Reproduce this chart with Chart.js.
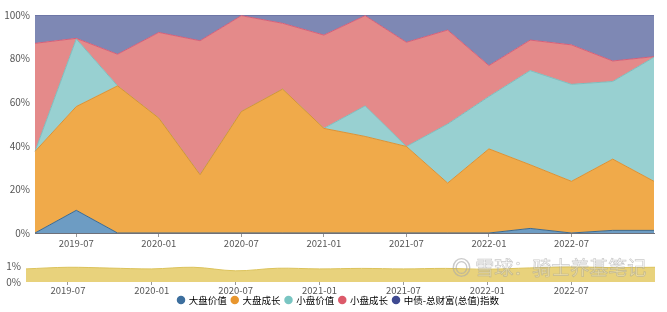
<!DOCTYPE html>
<html>
<head>
<meta charset="utf-8">
<script src="https://cdn.jsdelivr.net/npm/chart.js@4"></script>
<style>
  html, body { margin: 0; padding: 0; background: #fff; }
  #wrap { position: relative; width: 667px; height: 312px; overflow: hidden; }
  #main { position: absolute; left: 0; top: 0; }
  #sub { position: absolute; left: 0; top: 250px; }
  #mark {
    position: absolute; left: 452px; top: 253px;
    font: 19px "Noto Sans CJK SC", sans-serif;
    white-space: nowrap;
    color: rgba(255,255,255,0.3);
    -webkit-text-stroke: 0.7px rgba(150,150,150,0.5);
    pointer-events: none;
  }
</style>
</head>
<body>
<div id="wrap">
  <canvas id="main" width="667" height="250"></canvas>
  <canvas id="sub" width="667" height="62"></canvas>
  <div id="mark">◎ 雪球：骑士养基笔记</div>
</div>
<script>
// 季度
const quarters = [
  "2019-04","2019-07","2019-10","2020-01","2020-04","2020-07","2020-10","2021-01",
  "2021-04","2021-07","2021-10","2022-01","2022-04","2022-07","2022-10","2023-01"
];
const tickLabels = ["2019-07","2020-01","2020-07","2021-01","2021-07","2022-01","2022-07"];

const seriesNames = ["大盘价值", "大盘成长", "小盘价值", "小盘成长", "中债-总财富(总值)指数"];

// 占比 (%)
const largeValue  = [0, 10.4, 0, 0, 0, 0, 0, 0, 0, 0, 0, 0, 2.1, 0, 1.2, 1.2];
const largeGrowth = [37.4, 47.6, 67.5, 52.7, 26.7, 55.7, 66, 48, 44.3, 39.7, 22.9, 38.6, 29.2, 23.7, 32.7, 22.5];
const smallValue  = [0, 31, 0, 0, 0, 0, 0, 0, 14, 0, 27.1, 24, 43.2, 44.5, 35.6, 56.9];
const smallGrowth = [49.6, 0.3, 14.5, 39.3, 61.5, 44, 30.2, 42.8, 41.4, 47.8, 43.1, 14.2, 14, 18.1, 9.4, 0.3];
const bondIndex   = [13, 10.7, 18, 8, 11.8, 0.3, 3.8, 9.2, 0.3, 12.5, 6.9, 23.2, 11.5, 13.7, 21.1, 19.1];

// 下方小图
const subValues = [0.82, 0.92, 0.87, 0.82, 0.92, 0.70, 0.86, 0.82, 0.85, 0.82, 0.85, 0.80, 0.88, 0.94, 0.90, 0.92];

const dotColors  = ["#3d6f9e", "#e8962e", "#79c5c2", "#dc5a6a", "#3f4a91"];
const fillColors = ["#6d9cc3", "#f0aa4a", "#98d0d1", "#e48a8a", "#7e88b4"];
const lineColors = ["#3e6a8e", "#d99238", "#80bcbc", "#d4607a", "#5d6597"];

const FONT = "'Noto Sans CJK SC', 'Noto Sans', sans-serif";
Chart.defaults.font.family = FONT;
Chart.defaults.color = "#555";

const seriesData = [largeValue, largeGrowth, smallValue, smallGrowth, bondIndex];

const xTickColor = ctx => (tickLabels.includes(quarters[ctx.index]) ? "#999" : "rgba(0,0,0,0)");
const xTickText = (v, i) => (tickLabels.includes(quarters[i]) ? quarters[i] : "");

new Chart(document.getElementById("main"), {
  type: "line",
  data: {
    labels: quarters,
    datasets: seriesData.map((d, i) => ({
      label: seriesNames[i],
      data: d,
      fill: i === 0 ? "origin" : "-1",
      backgroundColor: fillColors[i],
      borderColor: lineColors[i],
      borderWidth: 1,
      pointRadius: 0,
      tension: 0
    }))
  },
  options: {
    responsive: false,
    devicePixelRatio: 1,
    animation: false,
    layout: { padding: { top: 15, right: 13, left: 0, bottom: 0 } },
    plugins: { legend: { display: false }, tooltip: { enabled: false } },
    scales: {
      x: {
        afterFit(s) { s.height = 17; },
        grid: { drawOnChartArea: false, tickLength: 4, color: xTickColor },
        border: { color: "#6e7079" },
        ticks: { autoSkip: false, maxRotation: 0, padding: 1, font: { size: 9.5 }, callback: xTickText }
      },
      y: {
        stacked: true,
        min: 0, max: 100,
        afterFit(s) { s.width = 35; },
        grid: { display: false, drawTicks: false },
        border: { display: false },
        ticks: { stepSize: 20, padding: 5, font: { size: 10 }, callback: v => v + "%" }
      }
    }
  }
});

const LEG_FONT = 9.5, LEG_PAD = 5;

// 图例位置：中心 y=50（画布内），整体右移
const placeLegend = {
  id: "placeLegend",
  afterLayout(chart) {
    const lg = chart.legend;
    const h = lg.bottom - lg.top;
    lg.top = 50 - LEG_PAD - LEG_FONT / 2;
    lg.bottom = lg.top + h;
    lg.left += 11;
    lg.right += 11;
  }
};

new Chart(document.getElementById("sub"), {
  type: "line",
  data: {
    labels: quarters,
    datasets: [{
      data: subValues,
      fill: "origin",
      backgroundColor: "#e8d27c",
      borderColor: "#dcc35c",
      borderWidth: 1,
      pointRadius: 0,
      tension: 0.35
    }]
  },
  plugins: [placeLegend],
  options: {
    responsive: false,
    devicePixelRatio: 1,
    animation: false,
    layout: { padding: { top: 16, right: 12, left: 0, bottom: -(LEG_FONT + LEG_PAD + 10 + 15 + 32 - 62) } },
    plugins: {
      tooltip: { enabled: false },
      legend: {
        position: "bottom",
        onClick: null,
        labels: {
          usePointStyle: true,
          pointStyle: "circle",
          boxWidth: 6, boxHeight: 6,
          padding: LEG_PAD,
          color: "#333",
          font: { size: LEG_FONT },
          generateLabels: () => seriesNames.map((n, i) => ({
            text: n,
            fillStyle: dotColors[i],
            strokeStyle: dotColors[i],
            lineWidth: 0,
            pointStyle: "circle",
            hidden: false,
            datasetIndex: i
          }))
        }
      }
    },
    scales: {
      x: {
        afterFit(s) { s.height = 15; },
        grid: { drawOnChartArea: false, tickLength: 3, color: xTickColor },
        border: { display: false },
        ticks: { autoSkip: false, maxRotation: 0, padding: 0, font: { size: 9.5 }, callback: xTickText }
      },
      y: {
        min: 0, max: 1,
        afterFit(s) { s.width = 26; },
        grid: { display: false, drawTicks: false },
        border: { display: false },
        ticks: { count: 2, autoSkip: false, padding: 5, font: { size: 10 }, callback: v => v + "%" }
      }
    }
  }
});
</script>
</body>
</html>
